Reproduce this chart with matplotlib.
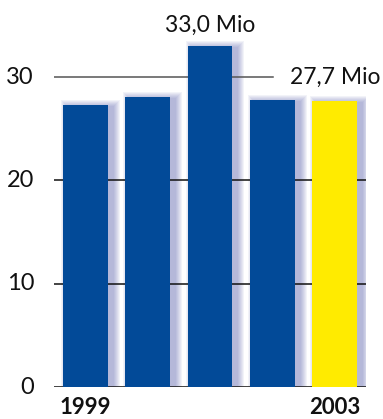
import numpy as np
import matplotlib
matplotlib.use('Agg')
import matplotlib.pyplot as plt

plt.rcParams['font.family'] = ['Lato', 'DejaVu Sans']

years = ['1999', '2000', '2001', '2002', '2003']
values = [27.3, 28.1, 33.0, 27.8, 27.7]
colors = ['#024a98', '#024a98', '#024a98', '#024a98', '#ffeb00']
shown_years = {0: '1999', 4: '2003'}
notes = {2: '33,0 Mio', 4: '27,7 Mio'}
yticks = [0, 10, 20, 30]

W, H = 383, 419
fig = plt.figure(figsize=(W / 100, H / 100), dpi=100)
ax = fig.add_axes([54 / W, 32 / H, 312 / W, 382.3 / H])
ax.set_xlim(-0.5, 4.5)
ax.set_ylim(0, 37)

x = np.arange(len(values))
v = np.array(values)
px_x = 5.0 / 312   # data per pixel
px_y = 37 / 382.3

# soft shadow behind bars, mostly to the right
for k in range(7, 0, -1):
    r = k * 1.0
    ax.bar(x + 5 * px_x, v + (r - 1) * px_y, 0.72 + 2 * r * px_x, bottom=-1 * px_y,
           color='#4c56a8', alpha=0.07, linewidth=0, zorder=1)

# grid lines
for t in yticks:
    if t == 30:
        ax.axhline(t, xmin=0, xmax=0.702, color='#555555', lw=1.1, zorder=2)
    else:
        ax.axhline(t, color='#111111', lw=1.1, zorder=2)

ax.bar(x, v + 0.1, 0.72, bottom=-0.1, color=colors, linewidth=0, zorder=3)

for i, s in notes.items():
    yy = 35.0 if i == 2 else 30.0
    ax.text(i, yy, s, ha='center', va='center', fontsize=16.5, color='#111111')

for i, s in shown_years.items():
    ax.text(i, -0.95, s, ha='center', va='top', fontsize=16, fontweight='bold',
            color='#111111', clip_on=False)

for t in yticks:
    ax.text(-0.82, t, str(t), ha='right', va='center', fontsize=17, color='#111111')

ax.set_xticks([])
ax.set_yticks([])
for sp in ax.spines.values():
    sp.set_visible(False)

fig.savefig('out.png', dpi=100)
